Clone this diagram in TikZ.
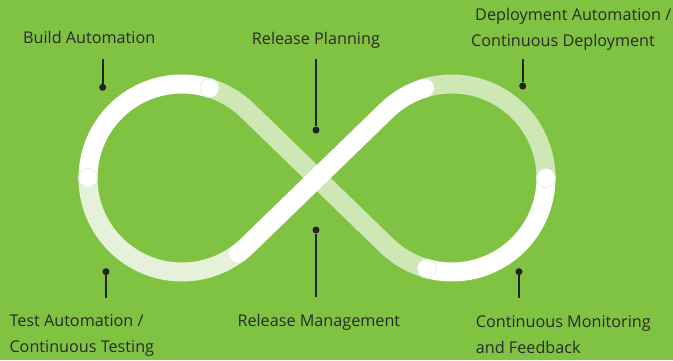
\documentclass[tikz,border=0pt]{standalone}
\usepackage{fontspec}
\setmainfont{Open Sans}
\definecolor{bggreen}{HTML}{80C241}
\definecolor{lightband}{HTML}{CEE7B5}
\definecolor{paleband}{HTML}{E6F1DA}
\definecolor{jointedge}{HTML}{DCEBCB}
\definecolor{pincol}{HTML}{222222}
\definecolor{textcol}{HTML}{2B2B2B}

\begin{document}
\begin{tikzpicture}[x=1pt,y=1pt,
  band/.style={line width=19pt,line cap=round},
  joint/.style={circle,fill=white,draw=jointedge,line width=0.6pt,minimum size=19pt,inner sep=0pt},
  pindot/.style={circle,fill=pincol,inner sep=0pt,minimum size=7pt},
  pinline/.style={draw=pincol,line width=1.8pt},
  lbl/.style={font=\fontsize{16.2}{26}\selectfont,text=textcol,inner sep=0pt,align=left}]
\fill [bggreen] (0,0) rectangle (673,360);
\useasboundingbox (0,0) rectangle (673,360);
\coordinate (lc) at (182,182);
\coordinate (rc) at (452,182);
\node [joint] (j1) at ([shift={(73:94)}]lc) {};
\node [joint] (j2) at ([shift={(180:94)}]lc) {};
\node [joint] (j3) at ([shift={(0:94)}]rc) {};
\node [joint] (j4) at ([shift={(-105.5:94)}]rc) {};
\draw [band,lightband] (j4.center) arc[start angle=-105.5,end angle=-134.1,radius=94]
  -- ([shift={(45.9:94)}]lc) arc[start angle=45.9,end angle=73,radius=94];
\draw [band,lightband] ([shift={(107:94)}]rc) arc[start angle=107,end angle=0,radius=94];
\draw [band,paleband] (j2.center) arc[start angle=180,end angle=307,radius=94];
\draw [band,white] (j1.center) arc[start angle=73,end angle=180,radius=94];
\draw [band,white] ([shift={(307:94)}]lc) arc[start angle=307,end angle=314.1,radius=94]
  -- ([shift={(134.1:94)}]rc) arc[start angle=134.1,end angle=107,radius=94];
\draw [band,white] (j3.center) arc[start angle=0,end angle=-105.5,radius=94];
\node [joint] at (j1) {};
\node [joint] at (j2) {};
\node [joint] at (j3) {};
\node [joint] at (j4) {};
\node [pindot] (buildpin) at (102.7,272.7) {};
\node [pindot] (planpin) at (316,230) {};
\node [pindot] (deploypin) at (522.7,274) {};
\node [pindot] (testpin) at (106,88.3) {};
\node [pindot] (managepin) at (316,130) {};
\node [pindot] (monitorpin) at (519,88.3) {};
\coordinate (buildend) at (102.7,300.7);
\coordinate (planend) at (316,300.7);
\coordinate (deployend) at (522.7,300.7);
\coordinate (testend) at (106,61.7);
\coordinate (manageend) at (316,63);
\coordinate (monitorend) at (519,61.7);
\draw [pinline] (buildend) -- (buildpin);
\draw [pinline] (planend) -- (planpin);
\draw [pinline] (deployend) -- (deploypin);
\draw [pinline] (testend) -- (testpin);
\draw [pinline] (manageend) -- (managepin);
\draw [pinline] (monitorend) -- (monitorpin);
\node [lbl,anchor=base west] (build) at (23,316.7) {Build Automation};
\node [lbl,anchor=base west] (plan) at (251.7,316) {Release Planning};
\node [lbl,anchor=base west] (deploy) at (471,313.3) {\hspace*{4pt}Deployment Automation /\\Continuous Deployment};
\node [lbl,anchor=base west] (test) at (9.3,7.3) {Test Automation /\\Continuous Testing};
\node [lbl,anchor=base west] (manage) at (237.3,34) {Release Management};
\node [lbl,anchor=base west] (monitor) at (475.7,6.7) {Continuous Monitoring\\and Feedback};
\end{tikzpicture}
\end{document}
